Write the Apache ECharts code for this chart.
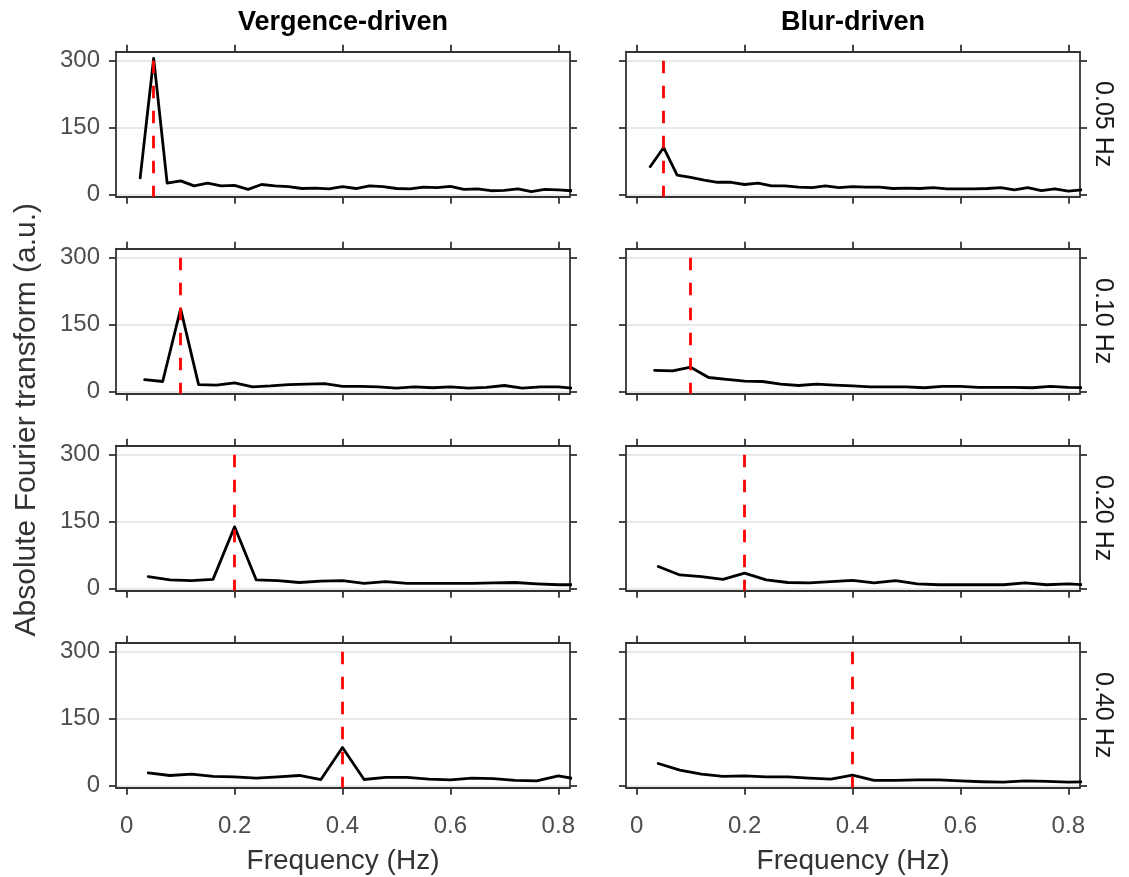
<!DOCTYPE html>
<html>
<head>
<meta charset="utf-8">
<script src="https://cdn.jsdelivr.net/npm/echarts@6/dist/echarts.min.js"></script>
<style>
  html, body { margin: 0; padding: 0; background: #ffffff; }
  #chart { width: 1129px; height: 877px; }
</style>
</head>
<body>
<div id="chart"></div>
<script>
// Column (condition) and row (stimulus frequency) labels
const columnTitles = ['Vergence-driven', 'Blur-driven'];
const rowLabels = ['0.05 Hz', '0.10 Hz', '0.20 Hz', '0.40 Hz'];
const stimulusFreqs = [0.05, 0.10, 0.20, 0.40];

// Axis ticks
const xTicks = [0, 0.2, 0.4, 0.6, 0.8];
const yTicks = [0, 150, 300];

// Frequency bins (Hz) of the spectra for each stimulus row
const freqs005 = [0.025, 0.05, 0.075, 0.1, 0.125, 0.15, 0.175, 0.2, 0.225, 0.25, 0.275, 0.3, 0.325, 0.35, 0.375, 0.4,
  0.425, 0.45, 0.475, 0.5, 0.525, 0.55, 0.575, 0.6, 0.625, 0.65, 0.675, 0.7, 0.725, 0.75, 0.775, 0.8, 0.825];
const freqs010 = [0.0333, 0.0667, 0.1, 0.1333, 0.1667, 0.2, 0.2333, 0.2667, 0.3, 0.3333, 0.3667, 0.4, 0.4333,
  0.4667, 0.5, 0.5333, 0.5667, 0.6, 0.6333, 0.6667, 0.7, 0.7333, 0.7667, 0.8, 0.8333];
const freqs020 = [0.04, 0.08, 0.12, 0.16, 0.2, 0.24, 0.28, 0.32, 0.36, 0.4, 0.44, 0.48, 0.52, 0.56, 0.6, 0.64,
  0.68, 0.72, 0.76, 0.8, 0.84];
const freqs040 = [0.04, 0.08, 0.12, 0.16, 0.2, 0.24, 0.28, 0.32, 0.36, 0.4, 0.44, 0.48, 0.52, 0.56, 0.6, 0.64,
  0.68, 0.72, 0.76, 0.8, 0.84];

// Absolute Fourier amplitude (a.u.)
const vergence005 = [37, 305, 25, 30, 19, 25, 19, 20, 11, 22, 19, 17, 13, 14, 12, 17, 13, 19, 17, 13, 12, 16, 15, 18, 11, 12, 8, 9, 12, 6, 11, 10, 8];
const blur005 = [62, 105, 43, 38, 32, 27, 27, 22, 25, 19, 19, 16, 15, 19, 15, 17, 16, 16, 13, 14, 13, 15, 12, 12, 12, 13, 15, 10, 15, 8, 12, 7, 10];
const vergence010 = [26, 22, 185, 15, 14, 19, 10, 12, 15, 16, 17, 11, 11, 10, 7, 10, 8, 10, 7, 9, 13, 7, 10, 10, 6];
const blur010 = [47, 46, 54, 31, 27, 23, 22, 16, 13, 16, 14, 12, 10, 10, 10, 8, 11, 11, 9, 9, 9, 8, 11, 9, 8];
const vergence020 = [26, 19, 17, 20, 138, 19, 17, 13, 16, 17, 11, 15, 11, 11, 11, 11, 12, 13, 10, 8, 8];
const blur020 = [49, 30, 26, 20, 34, 19, 13, 12, 15, 18, 12, 17, 10, 8, 8, 8, 8, 12, 8, 10, 7];
const vergence040 = [28, 22, 25, 20, 19, 16, 19, 22, 13, 85, 13, 18, 18, 14, 12, 16, 15, 11, 10, 21, 13];
const blur040 = [49, 34, 25, 20, 21, 19, 19, 16, 14, 23, 11, 11, 12, 12, 10, 8, 7, 10, 9, 7, 8];

const rowFreqs = [freqs005, freqs010, freqs020, freqs040];
const panelValues = [
  [vergence005, blur005],
  [vergence010, blur010],
  [vergence020, blur020],
  [vergence040, blur040]
];

// Panel layout
const panelLeft = [116, 626];
const panelWidth = 454;
const panelTop = [51.7, 248.7, 445.7, 642.7];
const panelHeight = 145;
const xRange = [-0.0198, 0.8217];
const yRange = [-5.4, 320.2];

const frameColor = '#333333';
const tickColor = '#4d4d4d';
const font = 'Liberation Sans, Arial, Helvetica, sans-serif';

const grids = [], xAxes = [], yAxes = [], series = [];
const frameLine = { show: true, onZero: false, lineStyle: { color: frameColor, width: 1.8 } };
const frameTick = { show: true, length: 7, inside: false, lineStyle: { color: frameColor, width: 1.8 } };

for (let r = 0; r < 4; r++) {
  for (let c = 0; c < 2; c++) {
    const g = grids.length;
    grids.push({ left: panelLeft[c], top: panelTop[r], width: panelWidth, height: panelHeight, containLabel: false });
    const bottomRow = r === 3;
    // bottom and top x axes
    xAxes.push({
      gridIndex: g, type: 'value', position: 'bottom', min: xRange[0], max: xRange[1],
      axisLine: frameLine,
      axisTick: Object.assign({ customValues: xTicks }, frameTick),
      axisLabel: { show: bottomRow, customValues: xTicks, fontSize: 24, color: tickColor, fontFamily: font, margin: 27,
        formatter: v => String(Math.round(v * 10) / 10) },
      splitLine: { show: false }
    });
    const xBottom = xAxes.length - 1;
    xAxes.push({
      gridIndex: g, type: 'value', position: 'top', min: xRange[0], max: xRange[1],
      axisLine: frameLine,
      axisTick: Object.assign({ customValues: xTicks }, frameTick),
      axisLabel: { show: false },
      splitLine: { show: false }
    });
    // left and right y axes
    yAxes.push({
      gridIndex: g, type: 'value', position: 'left', min: yRange[0], max: yRange[1],
      axisLine: frameLine,
      axisTick: Object.assign({ customValues: yTicks }, frameTick),
      axisLabel: { show: c === 0, customValues: yTicks, fontSize: 24, color: tickColor, fontFamily: font, margin: 16 },
      splitLine: { show: true, lineStyle: { color: '#e2e2e2', width: 1.6 } }
    });
    const yLeft = yAxes.length - 1;
    yAxes.push({
      gridIndex: g, type: 'value', position: 'right', min: yRange[0], max: yRange[1],
      axisLine: frameLine,
      axisTick: Object.assign({ customValues: yTicks }, frameTick),
      axisLabel: { show: false },
      splitLine: { show: false }
    });

    const freqs = rowFreqs[r];
    const vals = panelValues[r][c];
    series.push({
      type: 'line',
      xAxisIndex: xBottom,
      yAxisIndex: yLeft,
      data: freqs.map((f, i) => [f, vals[i]]),
      showSymbol: false,
      symbol: 'none',
      clip: true,
      z: 3,
      lineStyle: { color: '#000000', width: 2.8, join: 'round', cap: 'round' },
      markLine: {
        silent: true,
        symbol: ['none', 'none'],
        label: { show: false },
        z: 4,
        lineStyle: { color: '#ff0000', width: 2.8, type: [12.5, 12.5] },
        data: [[{ coord: [stimulusFreqs[r], 300] }, { coord: [stimulusFreqs[r], yRange[0]] }]]
      }
    });
  }
}

// Column titles, row strip labels and shared axis titles
const graphics = [];
columnTitles.forEach((t, c) => {
  graphics.push({
    type: 'text', x: panelLeft[c] + panelWidth / 2, y: 23,
    style: { text: t, font: 'bold 27px ' + font, fill: '#000000', textAlign: 'center', textVerticalAlign: 'middle' }
  });
  graphics.push({
    type: 'text', x: panelLeft[c] + panelWidth / 2, y: 861,
    style: { text: 'Frequency (Hz)', font: '28px ' + font, fill: '#333333', textAlign: 'center', textVerticalAlign: 'middle' }
  });
});
rowLabels.forEach((t, r) => {
  graphics.push({
    type: 'text', x: 1103, y: panelTop[r] + panelHeight / 2, rotation: -Math.PI / 2,
    style: { text: t, font: '25px ' + font, fill: '#1a1a1a', textAlign: 'center', textVerticalAlign: 'middle' }
  });
});
graphics.push({
  type: 'text', x: 27, y: (panelTop[0] + panelTop[3] + panelHeight) / 2, rotation: Math.PI / 2,
  style: { text: 'Absolute Fourier transform (a.u.)', font: '30px ' + font, fill: '#333333', textAlign: 'center', textVerticalAlign: 'middle' }
});

const chart = echarts.init(document.getElementById('chart'), null, { renderer: 'canvas' });
chart.setOption({
  backgroundColor: '#ffffff',
  animation: false,
  grid: grids,
  xAxis: xAxes,
  yAxis: yAxes,
  series: series,
  graphic: graphics
});
</script>
</body>
</html>
